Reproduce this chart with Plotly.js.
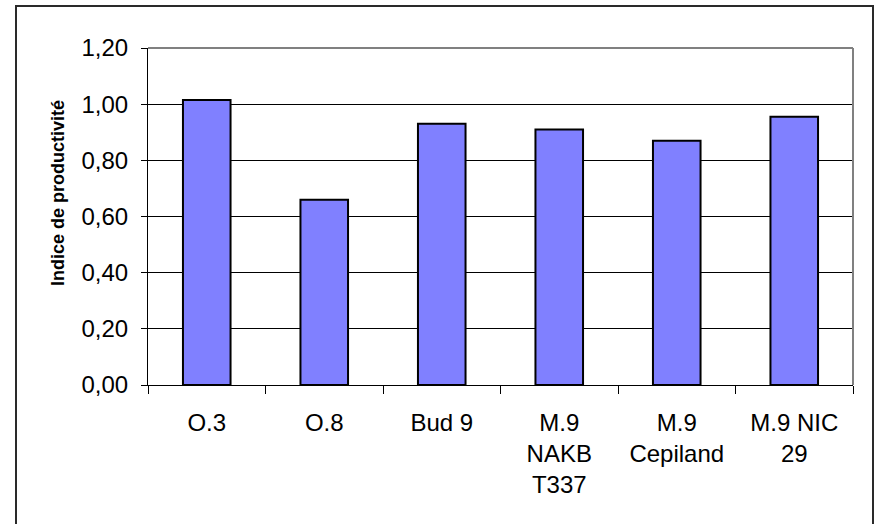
<!DOCTYPE html>
<html>
<head>
<meta charset="utf-8">
<script src="https://cdn.plot.ly/plotly-3.0.1.min.js"></script>
<style>
  html, body { margin: 0; padding: 0; background: #fff; }
  #chart { width: 877px; height: 524px; }
</style>
</head>
<body>
<div id="chart"></div>
<script>
// Data
const categories = ["O.3", "O.8", "Bud 9", "M.9<br>NAKB<br>T337", "M.9<br>Cepiland", "M.9 NIC<br>29"];
const productivityIndex = [1.015, 0.66, 0.93, 0.91, 0.87, 0.955];
const yTickValues = [0, 0.2, 0.4, 0.6, 0.8, 1.0, 1.2];
const yAxisTitle = "Indice de productivité";

const FONT = "Liberation Sans, Arial, sans-serif";

const trace = {
  type: "bar",
  x: categories,
  y: productivityIndex,
  marker: { color: "#8080FF", line: { color: "#000000", width: 2 } },
  hoverinfo: "x+y"
};

const layout = {
  width: 877,
  height: 524,
  margin: { l: 148, r: 24, t: 48, b: 139, pad: 0 },
  paper_bgcolor: "#ffffff",
  plot_bgcolor: "#ffffff",
  separators: ", ",
  showlegend: false,
  bargap: 0.595,
  font: { family: FONT, color: "#000000", size: 24 },
  xaxis: {
    type: "category",
    showgrid: false,
    showline: true,
    linecolor: "#000000",
    linewidth: 1,
    ticks: "outside",
    tickson: "boundaries",
    ticklen: 8,
    tickwidth: 1,
    tickcolor: "#000000",
    tickfont: { family: FONT, size: 24, color: "#000000" },
    ticklabelstandoff: 16,
    fixedrange: true
  },
  yaxis: {
    range: [0, 1.2],
    tickvals: yTickValues,
    tickformat: ".2f",
    showgrid: true,
    gridcolor: "#000000",
    gridwidth: 1,
    zeroline: false,
    showline: true,
    linecolor: "#000000",
    linewidth: 1,
    ticks: "outside",
    ticklen: 6,
    tickwidth: 1,
    tickcolor: "#000000",
    tickfont: { family: FONT, size: 24, color: "#000000" },
    ticklabelstandoff: 8,
    fixedrange: true
  },
  shapes: [
    { type: "line", xref: "paper", yref: "paper", x0: 0, x1: 1, y0: 1, y1: 1,
      line: { color: "#808080", width: 2 } },
    { type: "line", xref: "paper", yref: "paper", x0: 1, x1: 1, y0: 0, y1: 1,
      line: { color: "#808080", width: 2 } },
    { type: "rect", xref: "paper", yref: "paper",
      x0: (16 - 148) / 705, x1: (873 - 148) / 705,
      y0: -0.6, y1: (385 - 6) / 337,
      line: { color: "#2a2a2a", width: 2 }, fillcolor: "rgba(0,0,0,0)", layer: "above" }
  ],
  annotations: [
    { text: "<b>" + yAxisTitle + "</b>", xref: "paper", yref: "paper",
      x: (58 - 148) / 705, y: (385 - 193) / 337,
      xanchor: "center", yanchor: "middle", textangle: -90, showarrow: false,
      font: { family: FONT, size: 18, color: "#000000" } }
  ]
};

Plotly.newPlot("chart", [trace], layout, { displayModeBar: false, staticPlot: true });
</script>
</body>
</html>
